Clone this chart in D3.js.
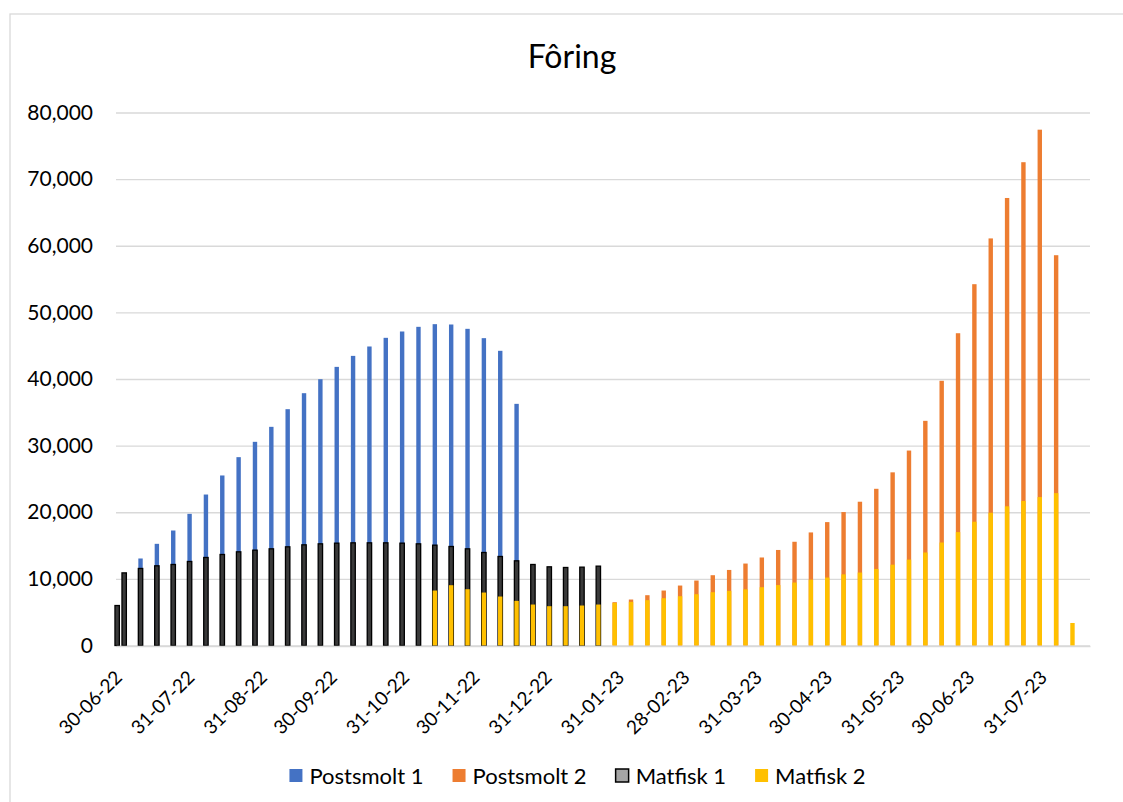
<!doctype html>
<html lang="no">
<head>
    <meta charset="UTF-8">
    <script src="https://cdnjs.cloudflare.com/ajax/libs/d3/7.8.5/d3.min.js"></script>
    <title>Fôring</title>
    <style>
        body { margin: 0; background: #fff; }
        text { font-family: Lato, "Open Sans", sans-serif; fill: #000; }
    </style>
</head>
<body>
<div id="chart"></div>

<script>
    // weekly dates (dd-mm-yy)
    const dates = [
        "30-06-22", "03-07-22", "10-07-22", "17-07-22", "24-07-22", "31-07-22", "07-08-22", "14-08-22",
        "21-08-22", "28-08-22", "04-09-22", "11-09-22", "18-09-22", "25-09-22", "02-10-22", "09-10-22",
        "16-10-22", "23-10-22", "30-10-22", "06-11-22", "13-11-22", "20-11-22", "27-11-22", "04-12-22",
        "11-12-22", "18-12-22", "25-12-22", "01-01-23", "08-01-23", "15-01-23", "22-01-23", "29-01-23",
        "05-02-23", "12-02-23", "19-02-23", "26-02-23", "05-03-23", "12-03-23", "19-03-23", "26-03-23",
        "02-04-23", "09-04-23", "16-04-23", "23-04-23", "30-04-23", "07-05-23", "14-05-23", "21-05-23",
        "28-05-23", "04-06-23", "11-06-23", "18-06-23", "25-06-23", "02-07-23", "09-07-23", "16-07-23",
        "23-07-23", "30-07-23", "06-08-23", "13-08-23"
    ];

    const postsmolt1 = [
        0, 0, 13060, 15260, 17260, 19760, 22660, 25520,
        28270, 30570, 32820, 35470, 37870, 39970, 41820, 43470,
        44880, 46180, 47130, 47830, 48230, 48180, 47530, 46130,
        44230, 36270, 0, 0, 0, 0, 0, 0,
        0, 0, 0, 0, 0, 0, 0, 0,
        0, 0, 0, 0, 0, 0, 0, 0,
        0, 0, 0, 0, 0, 0, 0, 0,
        0, 0, 0, 0
    ];

    const postsmolt2 = [
        0, 0, 0, 0, 0, 0, 0, 0,
        0, 0, 0, 0, 0, 0, 0, 0,
        0, 0, 0, 0, 0, 0, 0, 0,
        0, 0, 0, 0, 0, 0, 0, 6500,
        6900, 7550, 8250, 9000, 9750, 10550, 11340, 12300,
        13210, 14340, 15570, 16970, 18520, 20030, 21580, 23520,
        25990, 29260, 33720, 39730, 46870, 54230, 61100, 67170,
        72540, 77420, 58580, 0
    ];

    const matfisk1 = [
        6000, 10900, 11560, 11960, 12160, 12610, 13210, 13660,
        14060, 14310, 14510, 14810, 15110, 15260, 15360, 15410,
        15410, 15410, 15360, 15260, 15060, 14860, 14510, 13960,
        13360, 12710, 12160, 11810, 11710, 11760, 11910, 0,
        0, 0, 0, 0, 0, 0, 0, 0,
        0, 0, 0, 0, 0, 0, 0, 0,
        0, 0, 0, 0, 0, 0, 0, 0,
        0, 0, 0, 0
    ];

    const matfisk2 = [
        0, 0, 0, 0, 0, 0, 0, 0,
        0, 0, 0, 0, 0, 0, 0, 0,
        0, 0, 0, 0, 8250, 9050, 8450, 7950,
        7350, 6700, 6150, 5900, 5900, 6000, 6150, 6400,
        6550, 6800, 7100, 7400, 7700, 8000, 8200, 8430,
        8750, 9070, 9450, 9880, 10200, 10680, 10950, 11490,
        12130, 12890, 13960, 15460, 17020, 18580, 19920, 20890,
        21690, 22280, 22870, 3380
    ];

    // month ends shown on the date axis
    const tickLabels = [
        "30-06-22", "31-07-22", "31-08-22", "30-09-22", "31-10-22", "30-11-22", "31-12-22",
        "31-01-23", "28-02-23", "31-03-23", "30-04-23", "31-05-23", "30-06-23", "31-07-23"
    ];

    const yTicks = [0, 10000, 20000, 30000, 40000, 50000, 60000, 70000, 80000];

    const seriesNames = ["Postsmolt 1", "Postsmolt 2", "Matfisk 1", "Matfisk 2"];
    const seriesValues = [postsmolt1, postsmolt2, matfisk1, matfisk2];
    const seriesFill = ["#4472C4", "#ED7D31", "#3a3a3a", "#FFC000"];
    const seriesStroke = ["none", "none", "#000", "none"];

    const W = 1123, H = 802;
    const parse = d3.timeParse("%d-%m-%y");

    const svg = d3.select("#chart").append("svg")
        .attr("width", W)
        .attr("height", H);

    // chart frame
    svg.append("rect")
        .attr("x", 10).attr("y", 14)
        .attr("width", 1300).attr("height", 1000)
        .attr("fill", "#fff")
        .attr("stroke", "#d9d9d9")
        .attr("stroke-width", 1.3);

    const x = d3.scaleTime()
        .domain([new Date(2022, 5, 29, 12), new Date(2023, 7, 20, 12)])
        .range([116, 1090]);

    const y = d3.scaleLinear()
        .domain([0, 80000])
        .range([645.5, 112.5]);

    // title
    svg.append("text")
        .attr("x", 572).attr("y", 68)
        .attr("text-anchor", "middle")
        .style("font-size", "32px")
        .text("Fôring");

    // gridlines + y labels
    const yAxis = svg.append("g")
        .attr("transform", "translate(116,0)")
        .call(d3.axisLeft(y).tickValues(yTicks).tickSize(-974)
            .tickPadding(23).tickFormat(d3.format(",")));
    yAxis.select(".domain").remove();
    yAxis.selectAll(".tick line").attr("stroke", "#d9d9d9").attr("stroke-width", 1.3);
    yAxis.selectAll(".tick text")
        .style("font-size", "21px")
        .style("font-family", "Lato, sans-serif");

    // bars, series drawn over each other in order
    const barW = 4.4;
    seriesValues.forEach((vals, s) => {
        svg.append("g")
            .selectAll("rect")
            .data(dates.map((d, i) => ({date: parse(d), v: vals[i]})).filter(d => d.v > 0))
            .join("rect")
            .attr("x", d => x(d.date) - barW / 2)
            .attr("y", d => y(d.v))
            .attr("width", barW)
            .attr("height", d => y(0) - y(d.v))
            .attr("fill", seriesFill[s])
            .attr("stroke", seriesStroke[s])
            .attr("stroke-width", 1.3);
    });

    // x axis
    const xAxis = svg.append("g")
        .attr("transform", "translate(0,646)")
        .call(d3.axisBottom(x).tickValues(tickLabels.map(parse)).tickSize(0)
            .tickFormat(d3.timeFormat("%d-%m-%y")));
    xAxis.select(".domain").attr("stroke", "#d9d9d9").attr("stroke-width", 1.5);
    xAxis.selectAll(".tick text")
        .style("font-size", "19px")
        .style("font-family", "Lato, sans-serif")
        .attr("text-anchor", "end")
        .attr("y", 0)
        .attr("dy", "0.35em")
        .attr("transform", "translate(1,28) rotate(-45)");

    // legend
    const legend = svg.append("g");
    let lx = 0;
    seriesNames.forEach((name, s) => {
        const item = legend.append("g").attr("transform", `translate(${lx},0)`);
        item.append("rect")
            .attr("x", 0).attr("y", -7)
            .attr("width", 13).attr("height", 13)
            .attr("fill", s === 2 ? "#a5a5a5" : seriesFill[s])
            .attr("stroke", s === 2 ? "#000" : "none")
            .attr("stroke-width", 1.5);
        const t = item.append("text")
            .attr("x", 20).attr("y", 0)
            .attr("dy", "0.35em")
            .style("font-size", "22px")
            .text(name);
        lx += 20 + t.node().getComputedTextLength() + 29;
    });
    const legendW = lx - 29;
    legend.attr("transform", `translate(${(W - legendW) / 2 + 16},776)`);
</script>
</body>
</html>
